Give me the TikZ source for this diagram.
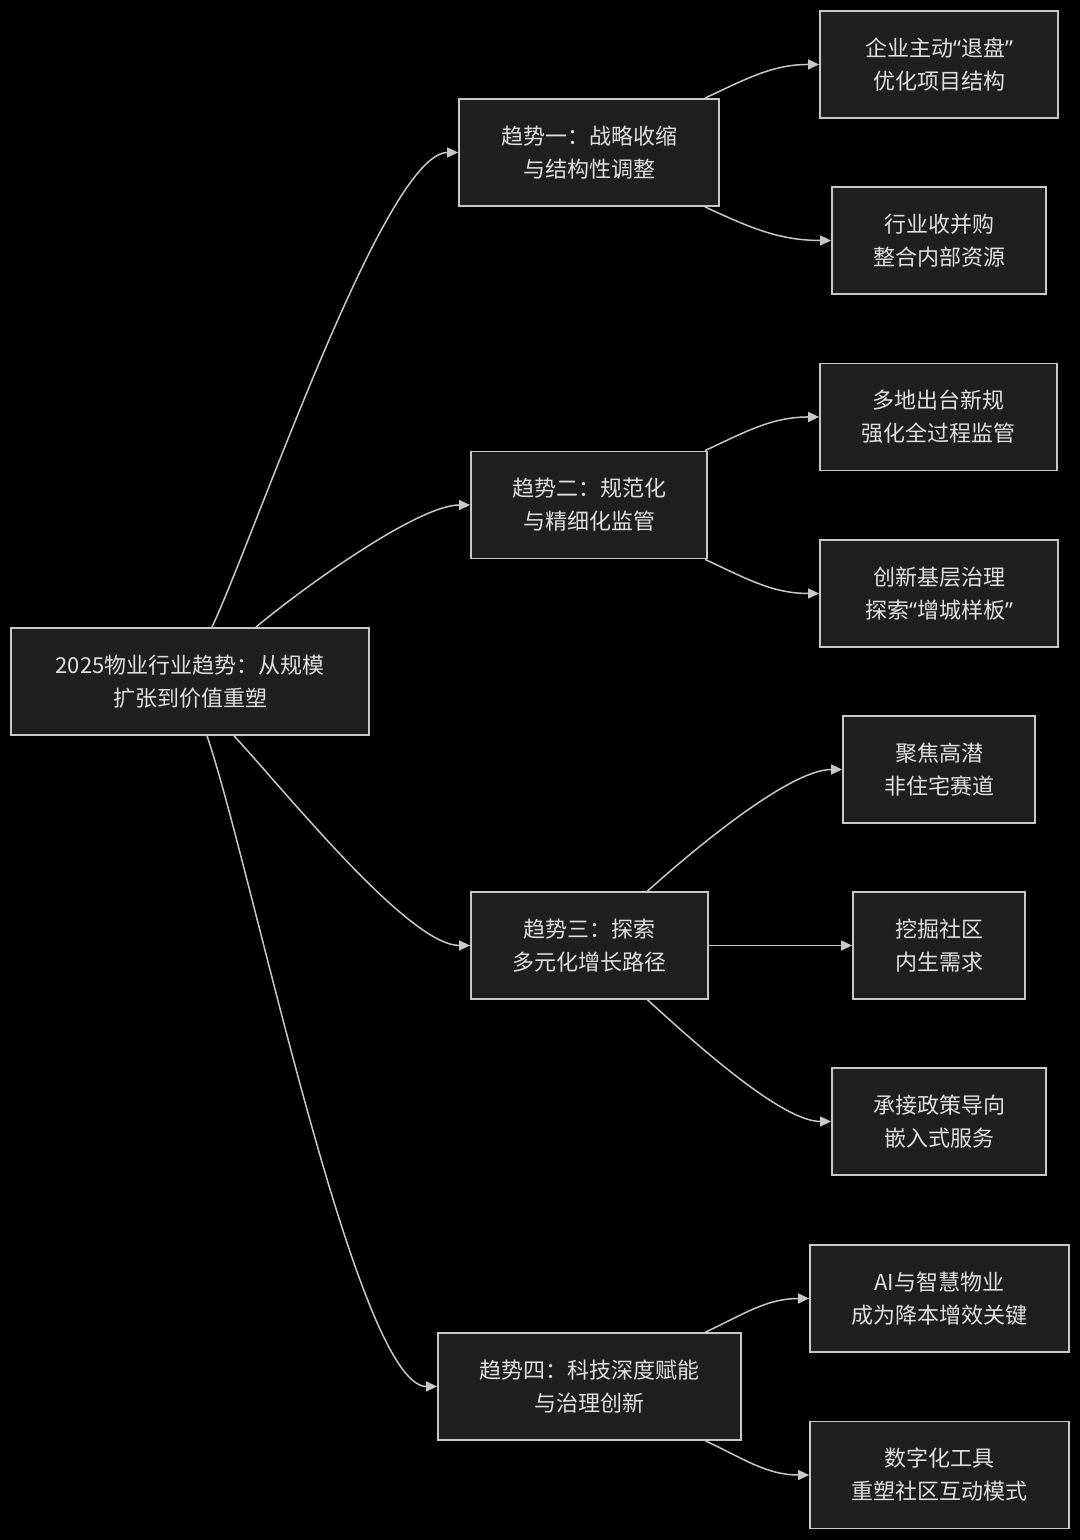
\documentclass[tikz,border=0pt]{standalone}
\usepackage{fontspec}
\setmainfont{Noto Sans CJK SC}
\newfontfamily\qfont{Noto Sans}
\usetikzlibrary{arrows.meta}
\definecolor{boxfill}{HTML}{1F1F1F}
\definecolor{boxline}{HTML}{C8C8C8}
\definecolor{boxtext}{HTML}{E0E0E0}
\newcommand{\openq}{{\qfont “}}
\newcommand{\closeq}{{\qfont ”}}
\begin{document}
\begin{tikzpicture}[x=0.5pt,y=0.5pt]
        \fill[black] (0,0) rectangle (1080,1540);
        \useasboundingbox (0,0) rectangle (1080,1540);
        \begin{scope}[every node/.style={rectangle,draw=boxline,fill=boxfill,text=boxtext,line width=0.9pt,
            minimum height=53.5pt,inner sep=0pt,align=center,font=\fontsize{11pt}{16.5pt}\selectfont}]
          \node[minimum width=179pt] (root) at (190,858.5) {2025物业行业趋势：从规模\\扩张到价值重塑};
          \node[minimum width=130pt] (t1) at (589,1387.5) {趋势一：战略收缩\\与结构性调整};
          \node[minimum width=118pt] (t2) at (589,1035) {趋势二：规范化\\与精细化监管};
          \node[minimum width=118.5pt] (t3) at (589.5,594.5) {趋势三：探索\\多元化增长路径};
          \node[minimum width=151.5pt] (t4) at (589.5,153.5) {趋势四：科技深度赋能\\与治理创新};
          \node[minimum width=119pt] (l1a) at (939,1475.5) {企业主动\openq 退盘\closeq\\优化项目结构};
          \node[minimum width=107pt] (l1b) at (939,1299.5) {行业收并购\\整合内部资源};
          \node[minimum width=118.5pt] (l2a) at (938.5,1123) {多地出台新规\\强化全过程监管};
          \node[minimum width=119pt] (l2b) at (939,946.5) {创新基层治理\\探索\openq 增城样板\closeq};
          \node[minimum width=96pt] (l3a) at (939,770.5) {聚焦高潜\\非住宅赛道};
          \node[minimum width=86pt] (l3b) at (939,594.5) {挖掘社区\\内生需求};
          \node[minimum width=107pt] (l3c) at (939,418.5) {承接政策导向\\嵌入式服务};
          \node[minimum width=129.5pt] (l4a) at (939.5,241.5) {AI与智慧物业\\成为降本增效关键};
          \node[minimum width=129.5pt] (l4b) at (939.5,65) {数字化工具\\重塑社区互动模式};
        \end{scope}
        \begin{scope}[every edge/.style={draw=boxline,line width=0.75pt,-{Triangle[length=5.5pt,width=5pt]}}]
          \path ([xshift=11pt]root.north) edge[out=65,in=180,out looseness=0.5,in looseness=0.35] (t1);
          \path ([xshift=33pt]root.north) edge[out=40,in=180,out looseness=0.6,in looseness=0.55] (t2);
          \path ([xshift=22pt]root.south) edge[out=-47,in=180,out looseness=0.6,in looseness=0.5] (t3);
          \path ([xshift=8.5pt]root.south) edge[out=-71,in=180,out looseness=0.5,in looseness=0.3] (t4);
          \path ([xshift=58pt]t1.north) edge[out=25,in=180] (l1a);
          \path ([xshift=58pt]t1.south) edge[out=-25,in=180] (l1b);
          \path ([xshift=58pt]t2.north) edge[out=25,in=180] (l2a);
          \path ([xshift=58pt]t2.south) edge[out=-25,in=180] (l2b);
          \path ([xshift=29pt]t3.north) edge[out=42,in=180,out looseness=0.6,in looseness=0.6] (l3a);
          \path (t3) edge (l3b);
          \path ([xshift=29pt]t3.south) edge[out=-42,in=180,out looseness=0.6,in looseness=0.6] (l3c);
          \path ([xshift=58pt]t4.north) edge[out=25,in=180] (l4a);
          \path ([xshift=58pt]t4.south) edge[out=-25,in=180] (l4b);
        \end{scope}
\end{tikzpicture}
\end{document}
